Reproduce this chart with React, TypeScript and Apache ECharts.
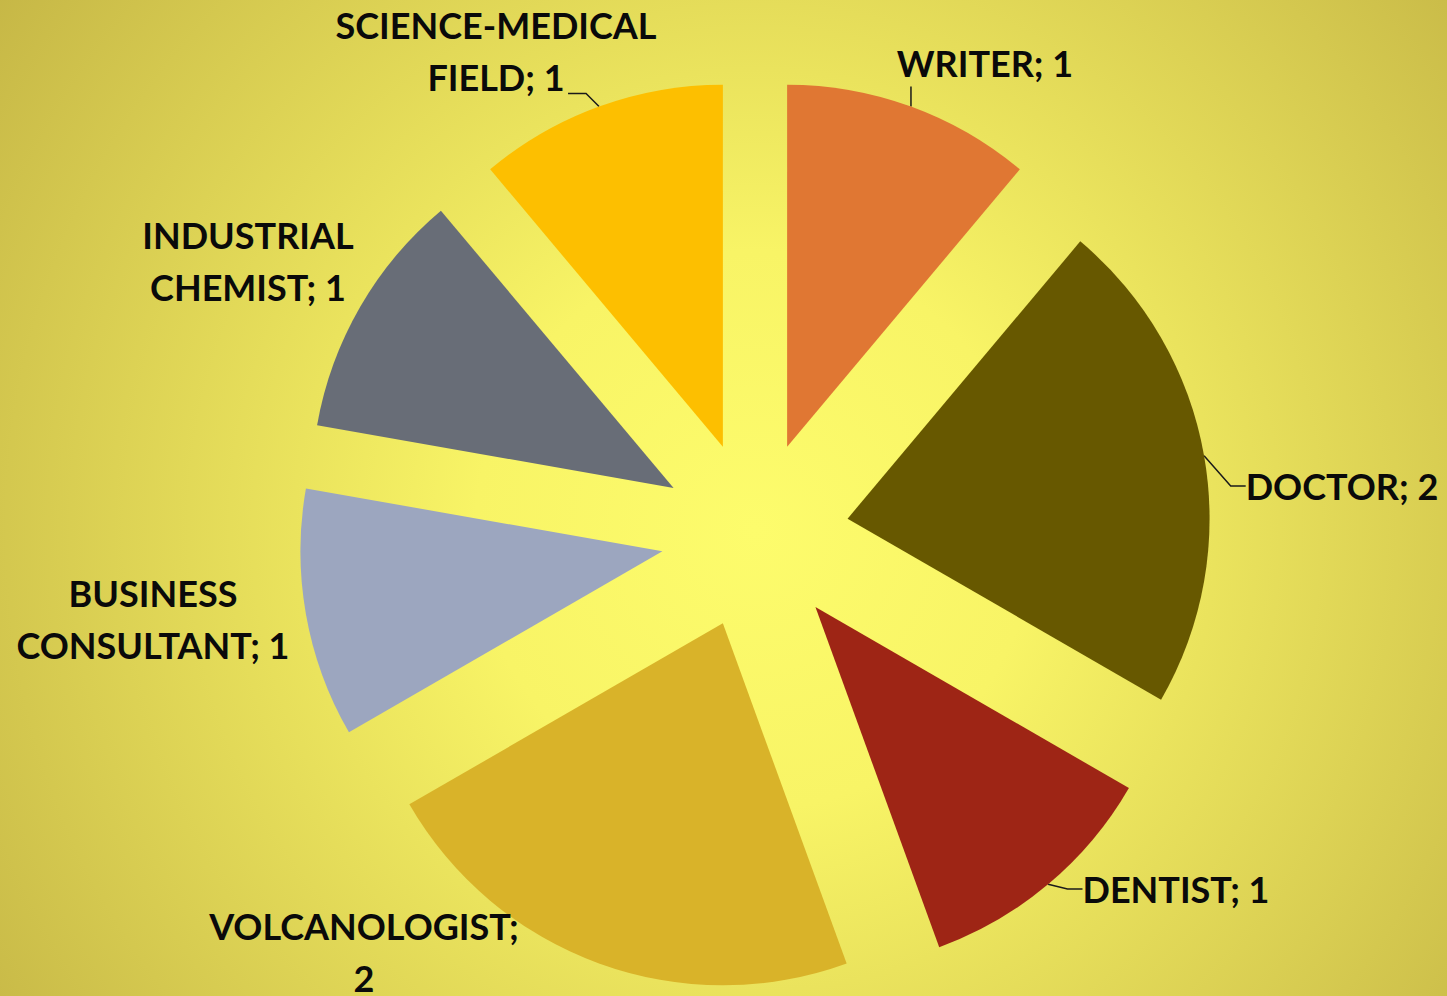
import React, { useEffect, useRef } from "react";
import * as echarts from "echarts";

const categories = [
  "WRITER",
  "DOCTOR",
  "DENTIST",
  "VOLCANOLOGIST",
  "BUSINESS CONSULTANT",
  "INDUSTRIAL CHEMIST",
  "SCIENCE-MEDICAL FIELD",
];
const values = [1, 2, 1, 2, 1, 1, 1];
const colors = ["#e07733", "#675800", "#9e2515", "#d9b329", "#9ca6bf", "#686d77", "#fdbf00"];
// how each label wraps: "none", "name" (break at first space), "value" (break before value)
const labelWrap = ["none", "none", "none", "value", "name", "name", "name"];
// leader line style: "none", "auto", "up" (straight up), "upLeft" (diagonal then left)
const leaderStyle = ["up", "auto", "auto", "none", "none", "none", "upLeft"];
const labelPos: [number, number][] = [
  [985, 63],
  [1342, 486],
  [1176, 889],
  [364, 952],
  [153, 619],
  [248, 261],
  [496, 51],
];

const CX = 755;
const CY = 535;
const RADIUS = 362;
const EXPLODE = 94;

export default function App() {
  const ref = useRef<HTMLDivElement>(null);
  useEffect(() => {
    document.body.style.margin = "0";
    if (!ref.current) return;
    const chart = echarts.init(ref.current, undefined, { renderer: "svg" });
    const total = values.reduce((a, b) => a + b, 0);
    const hidden = {
      name: "",
      itemStyle: { color: "rgba(0,0,0,0)" },
      label: { show: false },
      labelLine: { show: false },
      emphasis: { disabled: true },
    };
    let cum = 0;
    const series = categories.map((name, i) => {
      const before = cum;
      const v = values[i];
      cum += v;
      const after = total - before - v;
      const mid = ((before + v / 2) / total) * Math.PI * 2;
      const cx = CX + EXPLODE * Math.sin(mid);
      const cy = CY - EXPLODE * Math.cos(mid);
      return {
        type: "pie",
        center: [cx, cy],
        radius: [0, RADIUS],
        startAngle: 90,
        clockwise: true,
        avoidLabelOverlap: false,
        silent: true,
        emphasis: { disabled: true },
        data: [
          { ...hidden, value: before },
          {
            name,
            value: v,
            itemStyle: { color: colors[i] },
            label: { show: true },
            labelLine: { show: leaderStyle[i] !== "none" },
          },
          { ...hidden, value: after },
        ],
        label: {
          position: "outside",
          color: "#0a0a0a",
          fontFamily: "Lato",
          fontWeight: "bold",
          fontSize: 36,
          lineHeight: 52,
          formatter: (p: any) => {
            const w = labelWrap[i];
            if (w === "name") {
              const idx = p.name.indexOf(" ");
              return p.name.slice(0, idx) + "\n" + p.name.slice(idx + 1) + "; " + p.value;
            }
            if (w === "value") return p.name + ";\n" + p.value;
            return p.name + "; " + p.value;
          },
        },
        labelLine: {
          length: 15,
          length2: 15,
          lineStyle: { color: "#1a1a1a", width: 1.5 },
        },
        labelLayout: (params: any) => {
          if (params.dataIndex !== 1) return {};
          const [x, y] = labelPos[i];
          const out: any = { x, y, align: "center", verticalAlign: "middle" };
          const pts = params.labelLinePoints;
          if (pts && pts.length) {
            const p0 = pts[0];
            if (leaderStyle[i] === "up") {
              out.labelLinePoints = [
                [p0[0], p0[1]],
                [p0[0], p0[1] - 20],
              ];
            } else if (leaderStyle[i] === "upLeft") {
              out.labelLinePoints = [
                [p0[0], p0[1]],
                [p0[0] - 13, p0[1] - 13],
                [p0[0] - 31, p0[1] - 13],
              ];
            }
          }
          return out;
        },
      };
    });
    chart.setOption({
      animation: false,
      backgroundColor: {
        type: "radial",
        x: 755,
        y: 530,
        r: 930,
        global: true,
        colorStops: [
          { offset: 0, color: "#fdfc6c" },
          { offset: 0.3, color: "#f8f466" },
          { offset: 1, color: "#c6b746" },
        ],
      },
      series,
    });
    return () => chart.dispose();
  }, []);
  return <div ref={ref} style={{ width: 1447, height: 996 }} />;
}
